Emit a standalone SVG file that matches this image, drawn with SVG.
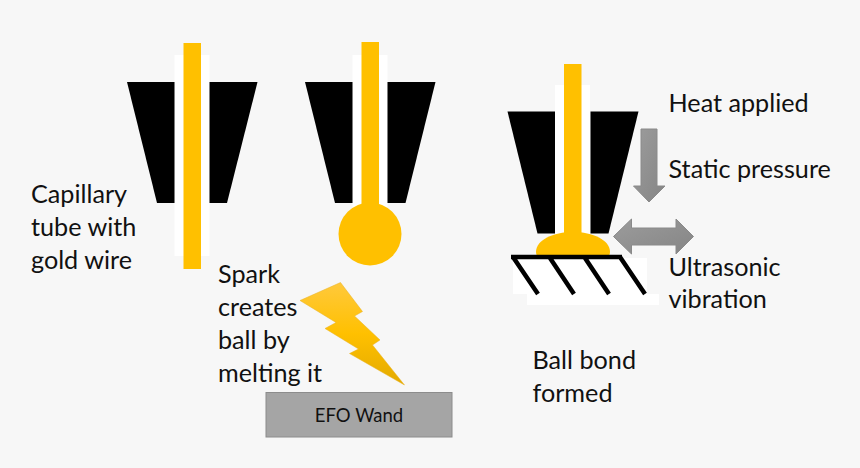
<svg xmlns="http://www.w3.org/2000/svg" width="860" height="468" viewBox="0 0 860 468">
<style>
.k{fill:#000}
.w{fill:#fff}
.g{fill:#ffc000}
.a{fill:url(#ga);stroke:#8a8a8a;stroke-width:1}
.h{stroke:#000;stroke-width:4.500;fill:none}
text{font-family:Lato,"Liberation Sans",sans-serif;font-size:25.200px;fill:#111}
</style>
<defs>
<linearGradient id="ga" x1="0" y1="0" x2="1" y2="1"><stop offset="0" stop-color="#9c9c9c"/><stop offset="1" stop-color="#858585"/></linearGradient>
<linearGradient id="gb" x1="0" y1="0" x2="0" y2="1"><stop offset="0" stop-color="#ffc93c"/><stop offset=".5" stop-color="#ffc000"/><stop offset="1" stop-color="#e3aa00"/></linearGradient>
</defs>
<rect width="860" height="468" fill="#f7f7f7"/>
<g id="capillary-1">
<rect class="w" x="174.500" y="55" width="35" height="201"/>
<path class="k" d="M127 82H174.500V203H157Z"/>
<path class="k" d="M209.500 82H257.500L227 203H209.500Z"/>
<rect class="g" x="183.500" y="43" width="17.500" height="226"/>
</g>
<g id="capillary-2">
<rect class="w" x="352.500" y="55" width="35" height="155"/>
<path class="k" d="M305 82H352.500V203H335Z"/>
<path class="k" d="M387.500 82H435.500L405.500 203H387.500Z"/>
<rect class="g" x="361.500" y="42" width="17.500" height="170"/>
<circle class="g" cx="370" cy="234" r="31.500"/>
</g>
<g id="capillary-3">
<rect class="w" x="555" y="85" width="35" height="150"/>
<path class="k" d="M507.500 111.500H555V233.500H537.500Z"/>
<path class="k" d="M590.500 111.500H638.500L608.500 233.500H590.500Z"/>
<rect class="g" x="564" y="64" width="17.500" height="175"/>
</g>
<g id="substrate">
<rect class="w" x="513" y="258" width="134" height="36"/>
<rect class="w" x="527" y="294" width="132" height="11"/>
<path class="g" d="M536 252C536 240 553 232 573 232S610 240 610 252Q610 255 608 257H538Q536 255 536 252Z"/>
<path class="h" d="M511 257H622M513 257L538 294M550 258L574 294M585 258L609 294M620 257L645 294"/>
</g>
<g id="connectors">
<path class="a" d="M641 129H657V186H665L649 202L633.500 186H641Z"/>
<path class="a" d="M613.500 236.500L631.500 219V228H676V219L693.500 236.500L676 254V245H631.500V254Z"/>
</g>
<g id="spark">
<path fill="url(#gb)" stroke="#e8b020" stroke-width=".5" d="M340.500 282.500L362.500 311.500L354.500 316L380 340L372.500 345L404.500 385L349.500 353.500L358.500 349L325 328.500L336 322.500L300 300.500Z"/>
</g>
<g id="efo-wand">
<rect x="266" y="392.500" width="186" height="44.500" fill="#a5a5a5" stroke="#8c8c8c"/>
<text x="359" y="422" text-anchor="middle" style="font-size:18.500px">EFO Wand</text>
</g>
<g id="labels">
<text x="31" y="203">Capillary</text>
<text x="31" y="236">tube with</text>
<text x="31" y="269">gold wire</text>
<text x="218" y="283">Spark</text>
<text x="218" y="316">creates</text>
<text x="218" y="349">ball by</text>
<text x="218" y="382">melting it</text>
<text x="668.500" y="112">Heat applied</text>
<text x="668.500" y="178">Static pressure</text>
<text x="668.500" y="276">Ultrasonic</text>
<text x="668.500" y="308">vibration</text>
<text x="532.500" y="369">Ball bond</text>
<text x="532.500" y="402">formed</text>
</g>
</svg>
